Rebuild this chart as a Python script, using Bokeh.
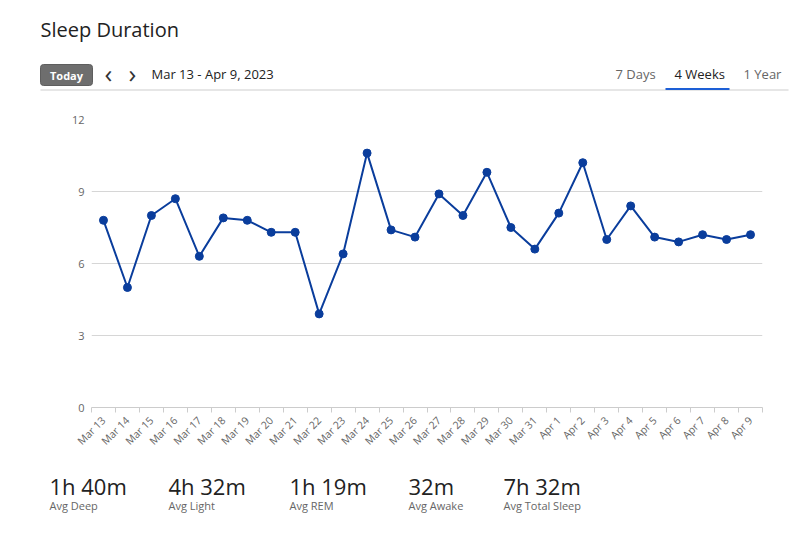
import math
from bokeh.plotting import figure
from bokeh.layouts import column
from bokeh.models import Range1d, FixedTicker, ColumnDataSource
from bokeh.core.properties import value
from bokeh.embed import file_html
from bokeh.resources import INLINE

# ---------------- data ----------------
dates = ["Mar 13", "Mar 14", "Mar 15", "Mar 16", "Mar 17", "Mar 18", "Mar 19",
         "Mar 20", "Mar 21", "Mar 22", "Mar 23", "Mar 24", "Mar 25", "Mar 26",
         "Mar 27", "Mar 28", "Mar 29", "Mar 30", "Mar 31", "Apr 1", "Apr 2",
         "Apr 3", "Apr 4", "Apr 5", "Apr 6", "Apr 7", "Apr 8", "Apr 9"]
sleep_hours = [7.8, 5.0, 8.0, 8.7, 6.3, 7.9, 7.8, 7.3, 7.3, 3.9, 6.4, 10.6,
               7.4, 7.1, 8.9, 8.0, 9.8, 7.5, 6.6, 8.1, 10.2, 7.0, 8.4, 7.1,
               6.9, 7.2, 7.0, 7.2]
y_ticks = [0, 3, 6, 9, 12]

stat_values = ["1h 40m", "4h 32m", "1h 19m", "32m", "7h 32m"]
stat_names = ["Avg Deep", "Avg Light", "Avg REM", "Avg Awake", "Avg Total Sleep"]

title_text = "Sleep Duration"
range_text = "Mar 13 - Apr 9, 2023"
tabs = ["7 Days", "4 Weeks", "1 Year"]

FONT = value("Open Sans")
W = 800
BL, BR = 91, 38   # frame borders shared by all figures (column aligns frames)


def bare(h, y0, y1):
    fig = figure(width=W, height=h, x_range=Range1d(BL, W - BR), y_range=Range1d(y1, y0),
                 output_backend="svg", toolbar_location=None, title=None)
    fig.axis.visible = False
    fig.grid.visible = False
    fig.outline_line_color = None
    fig.min_border = 0
    fig.min_border_left = BL
    fig.min_border_right = BR
    fig.background_fill_color = "white"
    fig.border_fill_color = "white"
    return fig


# ---------------- header ----------------
HH = 95
hdr = bare(HH, 0, HH)
rs = []
rs.append(hdr.text(x=[40], y=[29], text=[title_text], text_font=FONT, text_font_size="20px",
                   text_color="#222222", text_baseline="alphabetic"))
rs.append(hdr.quad(left=[40], right=[92], top=[64], bottom=[85], fill_color="#6e6e6e",
                   line_color="#5e5e5e", border_radius=3))
rs.append(hdr.text(x=[66], y=[74.5], text=["Today"], text_font=FONT, text_font_size="11px",
                   text_font_style="bold", text_color="white", text_align="center",
                   text_baseline="middle"))
rs.append(hdr.text(x=[108, 132], y=[72.5, 72.5], text=["\u2039", "\u203a"], text_font=FONT,
                   text_font_size="26px", text_color="#333333", text_align="center",
                   text_baseline="middle"))
rs.append(hdr.text(x=[151], y=[73.5], text=[range_text], text_font=FONT,
                   text_font_size="13px", text_color="#222222", text_baseline="alphabetic"))
rs.append(hdr.text(x=[615, 674, 743], y=[73.5, 73.5, 73.5], text=tabs, text_font=FONT,
                   text_font_size="13px", text_color=["#666666", "#222222", "#666666"],
                   text_baseline="alphabetic"))
rs.append(hdr.segment(x0=[40], y0=[89.5], x1=[788], y1=[89.5], line_color="#e6e6e6",
                      line_width=2))
rs.append(hdr.segment(x0=[665], y0=[88.5], x1=[729], y1=[88.5], line_color="#1d5fd6",
                      line_width=2))

# ---------------- main chart ----------------
n = len(dates)
idx = list(range(n))
src = ColumnDataSource(dict(x=idx, y=sleep_hours, label=dates))

p = figure(width=W, height=365, x_range=Range1d(-0.5, n - 0.5), y_range=Range1d(0, 12),
           output_backend="svg", toolbar_location=None)
p.min_border_top = 24
p.min_border_bottom = 53
p.min_border_left = BL
p.min_border_right = BR
p.outline_line_color = None
p.background_fill_color = "white"
p.border_fill_color = "white"

p.line("x", "y", source=src, line_color="#0a3d9c", line_width=2)
p.scatter("x", "y", source=src, size=8, fill_color="#0a3d9c", line_color="#0a3d9c")

p.xgrid.visible = False
p.ygrid.grid_line_color = "#d6d6d6"
p.ygrid.grid_line_width = 1

p.yaxis.ticker = FixedTicker(ticks=y_ticks)
p.yaxis.axis_line_color = None
p.yaxis.major_tick_line_color = None
p.yaxis.minor_tick_line_color = None
p.yaxis.major_tick_out = 0
p.yaxis.major_tick_in = 0
p.yaxis.major_label_text_font = "Open Sans"
p.yaxis.major_label_text_font_size = "11px"
p.yaxis.major_label_text_color = "#666666"
p.yaxis.major_label_standoff = 7

p.xaxis.ticker = FixedTicker(ticks=idx, minor_ticks=[i - 0.5 for i in range(n + 1)])
p.xaxis.major_label_overrides = {i: d for i, d in zip(idx, dates)}
p.xaxis.major_label_orientation = math.pi / 4
p.xaxis.axis_line_color = "#cccccc"
p.xaxis.major_tick_line_color = None
p.xaxis.major_tick_out = 0
p.xaxis.major_tick_in = 0
p.xaxis.minor_tick_line_color = "#cccccc"
p.xaxis.minor_tick_in = 0
p.xaxis.minor_tick_out = 5
p.xaxis.major_label_text_font = "Open Sans"
p.xaxis.major_label_text_font_size = "10.5px"
p.xaxis.major_label_text_color = "#666666"
p.xaxis.major_label_standoff = 6

# ---------------- footer ----------------
FH = 74
ftr = bare(FH, 460, 534)
col_x = [49, 168, 289, 408, 503]
rs.append(ftr.text(x=col_x, y=[485] * 5, text=stat_values, text_font=FONT,
                   text_font_size="22px", text_color="#222222", text_baseline="alphabetic"))
rs.append(ftr.text(x=col_x, y=[504.5] * 5, text=stat_names, text_font=FONT,
                   text_font_size="11px", text_color="#666666", text_baseline="alphabetic"))

for r in rs:
    r.level = "overlay"

layout = column(hdr, p, ftr, spacing=0)
open("out.html", "w").write(file_html(layout, INLINE))
